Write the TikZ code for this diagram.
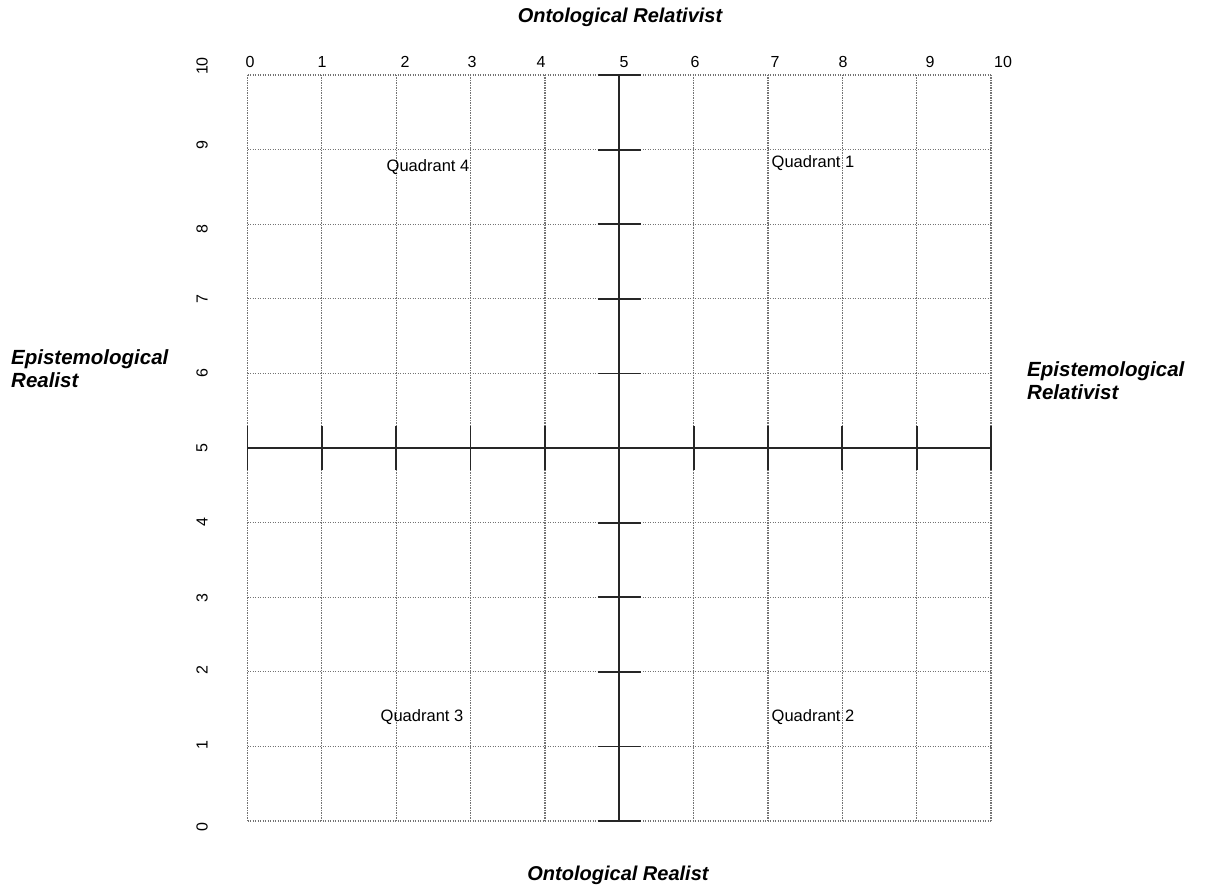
\documentclass[tikz,border=0pt]{standalone}
\usepackage{fontspec}
\setmainfont{Liberation Sans}
\begin{document}
\begin{tikzpicture}[x=1pt,y=-1pt,
  gridline/.style={draw=black!55, dash pattern=on 1.2pt off 1.3pt, line width=1.2pt},
  axisline/.style={draw=black!85, line width=1.8pt},
  ticknum/.style={font=\fontsize{16}{16}\selectfont, inner sep=0pt},
  quadlabel/.style={font=\fontsize{16.5}{16.5}\selectfont, inner sep=0pt},
  axistitle/.style={font=\fontsize{20}{20}\selectfont\bfseries\itshape, inner sep=0pt},
  sidetitle/.style={font=\fontsize{20.5}{23}\selectfont\bfseries\itshape, inner sep=0pt, align=left}]
\useasboundingbox (0,0) rectangle (1207,892);
\fill[white] (0,0) rectangle (1207,892);
\begin{scope}[shift={(247.5,821)}, x=74.35pt, y=74.6pt]
  \foreach \i in {0,...,10} {
    \draw[gridline] (\i,0) -- (\i,10);
    \draw[gridline] (0,\i) -- (10,\i);
  }
  \coordinate (hl) at (0,5);
  \coordinate (hr) at (10,5);
  \coordinate (vb) at (5,0);
  \coordinate (vt) at (5,10);
  \draw[axisline] (hl) -- (hr);
  \draw[axisline] (vb) -- (vt);
  \foreach \i in {0,...,10} {
    \draw[axisline] (\i,4.705) -- (\i,5.295);
    \draw[axisline] (4.71,\i) -- (5.29,\i);
  }
\end{scope}
% x labels (top)
\foreach \n/\xx in {0/250,1/322,2/405,3/472,4/541,5/624,6/695,7/775,8/843,9/930,10/1003} {
  \node[ticknum] (xl\n) at (\xx,62) {\n};
}
% y labels (left, rotated)
\foreach \n/\yy in {10/66,9/145,8/229,7/299,6/373,5/448,4/522,3/598,2/670,1/745,0/827} {
  \node[ticknum, rotate=90] (yl\n) at (202,\yy) {\n};
}
\node[quadlabel] (q4) at (428,167) {Quadrant 4};
\node[quadlabel] (q1) at (813,163) {Quadrant 1};
\node[quadlabel] (q3) at (422,717) {Quadrant 3};
\node[quadlabel] (q2) at (813,717) {Quadrant 2};
\node[axistitle] (top) at (620,17) {Ontological Relativist};
\node[axistitle] (bot) at (618,875) {Ontological Realist};
\node[sidetitle, anchor=north west] (left) at (11,349) {Epistemological\\Realist};
\node[sidetitle, anchor=north west] (right) at (1027,361) {Epistemological\\Relativist};
\end{tikzpicture}
\end{document}
